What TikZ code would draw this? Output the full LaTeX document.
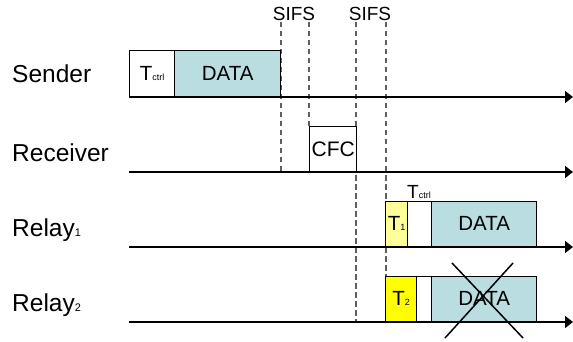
\documentclass[tikz,border=0pt]{standalone}
\usepackage{fontspec}
\setmainfont{Liberation Sans}
\usetikzlibrary{arrows.meta}
\definecolor{databl}{RGB}{185,221,224}
\definecolor{lyel}{RGB}{255,255,153}
\definecolor{syel}{RGB}{255,255,0}
\definecolor{dgray}{RGB}{95,95,95}
\newcommand{\subsm}[1]{{\fontsize{9}{9}\selectfont #1}}
\begin{document}
\begin{tikzpicture}[x=1pt,y=-1pt,
  lbl/.style={font=\fontsize{24.5}{24.5}\selectfont, anchor=base west, inner sep=0pt},
  sifs/.style={font=\fontsize{19}{19}\selectfont, anchor=base, inner sep=0pt},
  timeline/.style={line width=1.6pt, -{Triangle[length=8pt,width=12pt]}},
  box/.style={draw=black, line width=1.4pt, inner sep=0pt, anchor=south west, font=\fontsize{20.5}{20.5}\selectfont},
  gap/.style={dash pattern=on 5.5pt off 3.5pt, draw=dgray, line width=1.8pt},
  cross/.style={line width=1.5pt}]
\path[use as bounding box] (0,0) rectangle (573,342);

% row labels
\node[lbl] (lsend) at (12,83) {Sender};
\node[lbl] (lrecv) at (12,161) {Receiver};
\node[lbl] (lrel1) at (12,236) {Relay{\fontsize{11}{11}\selectfont 1}};
\node[lbl] (lrel2) at (12,311) {Relay{\fontsize{11}{11}\selectfont 2}};

% timelines
\coordinate (s0) at (129,97);  \coordinate (s1) at (573,97);
\coordinate (r0) at (129,172); \coordinate (r1) at (573,172);
\coordinate (a0) at (129,247); \coordinate (a1) at (573,247);
\coordinate (b0) at (129,322); \coordinate (b1) at (573,322);

% dashed guides
\coordinate (d1t) at (281,22); \coordinate (d1b) at (281,172);
\coordinate (d2t) at (309,22); \coordinate (d2b) at (309,127);
\coordinate (d3t) at (356,22); \coordinate (d3b) at (356,322);
\coordinate (d4t) at (386,22); \coordinate (d4b) at (386,277);
\draw[gap] (d1t) -- (d1b);
\draw[gap] (d2t) -- (d2b);
\draw[gap] (d3t) -- (d3b);
\draw[gap] (d4t) -- (d4b);

\node[sifs] (sifs1) at (294,21) {SIFS};
\node[sifs] (sifs2) at (370,21) {SIFS};

% sender
\node[box, fill=white, minimum width=45pt, minimum height=46pt] (sct) at (129,97) {T\subsm{ctrl}};
\node[box, fill=databl, minimum width=106pt, minimum height=46pt] (sdata) at (174,97) {DATA};

% receiver
\node[box, fill=white, minimum width=47pt, minimum height=45pt, font=\fontsize{21}{21}\selectfont] (cfc) at (309,172) {CFC};

% relay 1
\node[box, fill=lyel, minimum width=22pt, minimum height=45pt] (t1) at (385,247) {T\subsm{1}};
\node[box, fill=white, minimum width=24pt, minimum height=45pt] (w1) at (407,247) {};
\node[box, fill=databl, minimum width=105pt, minimum height=45pt] (data1) at (431,247) {DATA};
\node[inner sep=0pt, anchor=base, font=\fontsize{19}{19}\selectfont] (tctrl) at (419,198) {T\subsm{ctrl}};

% relay 2
\node[box, fill=syel, minimum width=31pt, minimum height=45pt] (t2) at (385,322) {T\subsm{2}};
\node[box, fill=white, minimum width=15pt, minimum height=45pt] (w2) at (416,322) {};
\node[box, fill=databl, minimum width=105pt, minimum height=45pt] (data2) at (431,322) {DATA};

\draw[timeline] (s0) -- (s1);
\draw[timeline] (r0) -- (r1);
\draw[timeline] (a0) -- (a1);
\draw[timeline] (b0) -- (b1);

% cross
\coordinate (c1) at (452,263); \coordinate (c2) at (523,338);
\coordinate (c3) at (513,263); \coordinate (c4) at (445,338);
\draw[cross] (c1) -- (c2);
\draw[cross] (c3) -- (c4);
\end{tikzpicture}
\end{document}
